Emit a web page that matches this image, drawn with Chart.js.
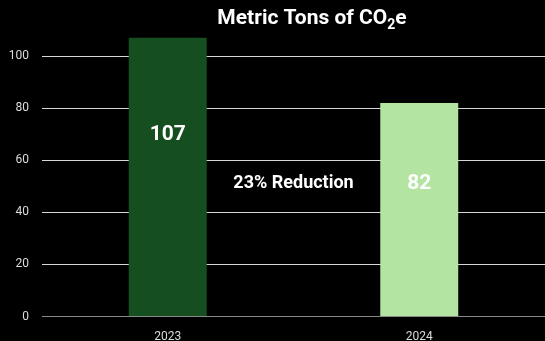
<!DOCTYPE html>
<html>
<head>
<meta charset="utf-8">
<script src="https://cdn.jsdelivr.net/npm/chart.js@4"></script>
<style>
    html, body { margin: 0; padding: 0; background: #000; }
    canvas { display: block; }
</style>
</head>
<body>
<canvas id="chart" width="545" height="341"></canvas>
<script>
// Emissions by year (metric tons CO2e)
const years = ['2023', '2024'];
const tons = [107, 82];
const barColors = ['#154f1f', '#b4e4a2'];
const yTicks = [0, 20, 40, 60, 80, 100];

const FONT = "Roboto, 'Noto Sans', sans-serif";

// Title with a lowered "2" in CO2e
const titlePlugin = {
    id: 'subTitle',
    afterDraw(chart) {
        const ctx = chart.ctx;
        const parts = [
            { t: 'Metric Tons of CO', size: 21, dy: 0 },
            { t: '2', size: 14, dy: 5 },
            { t: 'e', size: 21, dy: 0 }
        ];
        ctx.save();
        ctx.fillStyle = '#fff';
        ctx.textBaseline = 'alphabetic';
        let total = 0;
        parts.forEach(p => {
            ctx.font = `bold ${p.size}px ${FONT}`;
            p.w = ctx.measureText(p.t).width;
            total += p.w;
        });
        let x = 312 - total / 2;
        parts.forEach(p => {
            ctx.font = `bold ${p.size}px ${FONT}`;
            ctx.fillText(p.t, x, 24 + p.dy);
            x += p.w;
        });
        ctx.restore();
    }
};

// where a value label sits inside its bar (in data units)
const labelLevel = v => v * 0.756 - 11;

// Value labels inside bars plus the reduction note between them
const labelPlugin = {
    id: 'barLabels',
    afterDatasetsDraw(chart) {
        const ctx = chart.ctx;
        const yScale = chart.scales.y;
        const meta = chart.getDatasetMeta(0);
        ctx.save();
        ctx.fillStyle = '#fff';
        ctx.textAlign = 'center';
        ctx.textBaseline = 'middle';
        ctx.font = `bold 21px ${FONT}`;
        meta.data.forEach((bar, i) => {
            ctx.fillText(String(tons[i]), bar.x, yScale.getPixelForValue(labelLevel(tons[i])));
        });
        const pct = Math.round((tons[0] - tons[1]) / tons[0] * 100);
        const mx = (meta.data[0].x + meta.data[1].x) / 2;
        ctx.font = `bold 18px ${FONT}`;
        ctx.fillText(`${pct}% Reduction`, mx, yScale.getPixelForValue(labelLevel(tons[1])));
        ctx.restore();
    }
};

new Chart(document.getElementById('chart'), {
    type: 'bar',
    data: {
        labels: years,
        datasets: [{
            data: tons,
            backgroundColor: barColors,
            borderWidth: 0,
            barPercentage: 0.31,
            categoryPercentage: 1
        }]
    },
    options: {
        responsive: false,
        animation: false,
        layout: { padding: { top: 30, left: 7, right: 0, bottom: 0 } },
        plugins: {
            legend: { display: false },
            tooltip: { enabled: false }
        },
        scales: {
            x: {
                afterFit(scale) { scale.height = 24.5; },
                grid: { display: false },
                border: { display: false },
                ticks: { color: '#dcdcdc', font: { family: FONT, size: 12 }, padding: 5 }
            },
            y: {
                min: 0,
                max: 110,
                afterFit(scale) { scale.width = 35; },
                afterBuildTicks(scale) {
                    scale.ticks = yTicks.map(v => ({ value: v }));
                },
                border: { display: false },
                grid: {
                    drawTicks: false,
                    color: ctx => ctx.tick && ctx.tick.value === 0 ? '#8a8a8a' : '#d8d8d8'
                },
                ticks: { color: '#dcdcdc', font: { family: FONT, size: 12 }, padding: 13 }
            }
        }
    },
    plugins: [titlePlugin, labelPlugin]
});
</script>
</body>
</html>
